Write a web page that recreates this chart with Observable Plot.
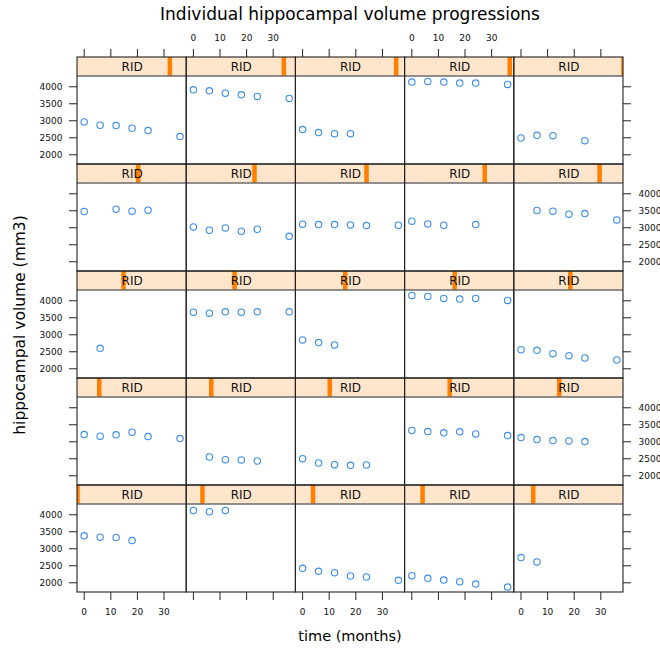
<!DOCTYPE html>
<html><head><meta charset="utf-8">
<script src="https://cdn.jsdelivr.net/npm/d3@7"></script>
<script src="https://cdn.jsdelivr.net/npm/@observablehq/plot@0.6"></script>
<style>
body{margin:0;background:#fff;font-family:"DejaVu Sans",sans-serif;}
#wrap{position:relative;width:660px;height:649px;}
#title{box-sizing:border-box;height:30px;padding-top:4px;margin-left:77px;width:546px;text-align:center;font-size:17px;line-height:20px;color:#000;white-space:nowrap;}
#ylab{position:absolute;left:20px;top:325px;transform:translate(-50%,-50%) rotate(-90deg);font-size:15.5px;white-space:nowrap;color:#000;}
#xlab{position:absolute;left:350px;top:636px;transform:translate(-50%,-50%);font-size:14.5px;white-space:nowrap;color:#000;}
</style></head><body>
<div id="wrap">
<div id="title">Individual hippocampal volume progressions</div>
<div id="chart"></div>
<div id="ylab">hippocampal volume (mm3)</div>
<div id="xlab">time (months)</div>
</div>
<script>
// visit months
const months = [0, 6, 12, 18, 24, 36];
// subject IDs, in lattice panel order (bottom-left first, row by row upward)
const rid = [2, 175, 190, 194, 210,
             241, 272, 374, 492, 496,
             508, 528, 543, 547, 618,
             669, 747, 778, 877, 939,
             1017, 1069, 1104, 1152, 1202];
// hippocampal volume (mm3) per panel, one value per visit month (null = missing)
const volume = [
  [3380, 3341, 3331, 3242, null, null],
  [4128, 4089, 4128, null, null, null],
  [2426, 2337, 2298, 2199, 2170, 2071],
  [2209, 2130, 2081, 2032, 1963, 1874],
  [2740, 2613, null, null, null, null],
  [3213, 3164, 3203, 3282, 3154, 3095],
  [null, 2553, 2475, 2465, 2435, null],
  [2504, 2376, 2327, 2307, 2317, null],
  [3331, 3301, 3262, 3292, 3232, 3183],
  [3124, 3065, 3036, 3026, 3006, null],
  [null, 2603, null, null, null, null],
  [3665, 3636, 3675, 3665, 3675, 3675],
  [2849, 2770, 2701, null, null, null],
  [4157, 4128, 4069, 4049, 4069, 4010],
  [2563, 2544, 2445, 2386, 2317, 2258],
  [3478, null, 3547, 3488, 3518, null],
  [3026, 2927, 2996, 2898, 2957, 2750],
  [3105, 3095, 3095, 3085, 3065, 3075],
  [3193, 3114, 3075, null, 3095, null],
  [null, 3508, 3488, 3400, 3419, 3232],
  [2967, 2869, 2859, 2780, 2711, 2534],
  [3911, 3882, 3813, 3764, 3715, 3656],
  [2740, 2652, 2622, 2622, null, null],
  [4138, 4157, 4138, 4108, 4108, 4069],
  [2494, 2573, 2563, null, 2416, null]
];
const xTicks = [0, 10, 20, 30];
const yTicks = [2000, 2500, 3000, 3500, 4000];
const stripLabel = "RID";

const nCol = 5, nRow = 5;
const panels = rid.map((r, i) => ({i, rid: r, col: i % nCol, row: nRow - 1 - Math.floor(i / nCol)}));
const obs = [];
volume.forEach((vals, i) => vals.forEach((v, j) => {
  if (v != null) obs.push({col: panels[i].col, row: panels[i].row, t: months[j], v});
}));

// lattice-style 7% axis padding
const [tLo, tHi] = d3.extent(months);
const xMin = tLo - 0.07 * (tHi - tLo), xMax = tHi + 0.07 * (tHi - tLo);
const [vLo, vHi] = d3.extent(obs, d => d.v);
const yMin = vLo - 0.07 * (vHi - vLo), yMax = vHi + 0.07 * (vHi - vLo);
const stripTop = yMax + (yMax - yMin) * (18.5 / 88.5);
const [ridLo, ridHi] = d3.extent(rid);
const ridX = r => xMin + (r - ridLo) / (ridHi - ridLo) * (xMax - xMin);

const cols = d3.range(nCol), rows = d3.range(nRow);
const topTicks = cols.flatMap(c => xTicks.map(v => ({col: c, row: 0, v})));
const bottomTicks = cols.flatMap(c => xTicks.map(v => ({col: c, row: nRow - 1, v})));
const topLabels = topTicks.filter(d => d.col % 2 === 1);
const bottomLabels = bottomTicks.filter(d => d.col % 2 === 0);
const leftTicks = rows.flatMap(r => yTicks.map(v => ({col: 0, row: r, v})));
const rightTicks = rows.flatMap(r => yTicks.map(v => ({col: nCol - 1, row: r, v})));
const leftLabels = leftTicks.filter(d => d.row % 2 === 0);
const rightLabels = rightTicks.filter(d => d.row % 2 === 1);

const ink = "#222";
const F = {fx: "col", fy: "row"};

const chart = Plot.plot({
  width: 660,
  height: 619,
  marginTop: 27,
  marginBottom: 57,
  marginLeft: 77,
  marginRight: 37,
  style: {fontFamily: "DejaVu Sans, sans-serif", fontSize: "9px", background: "#fff", overflow: "visible"},
  fx: {domain: cols, padding: 0, round: false, axis: null},
  fy: {domain: rows, padding: 0, round: false, axis: null},
  x: {domain: [xMin, xMax], axis: null},
  y: {domain: [yMin, stripTop], axis: null},
  marks: [
    // strip background
    Plot.rect(panels, {...F, x1: () => xMin, x2: () => xMax, y1: () => yMax, y2: () => stripTop, fill: "#ffe5cc"}),
    // level indicator in strip
    Plot.ruleX(panels, {...F, x: d => ridX(d.rid), y1: () => yMax, y2: () => stripTop, stroke: "#ff7f00", strokeWidth: 4.5, clip: true}),
    Plot.text(panels, {...F, x: () => (xMin + xMax) / 2, y: () => (yMax + stripTop) / 2, text: () => stripLabel, fontSize: 12, fill: "#111"}),
    // strip / panel separator and frames
    Plot.ruleY(panels, {...F, y: () => yMax, stroke: ink, strokeWidth: 1}),
    Plot.rect(panels, {...F, x1: () => xMin, x2: () => xMax, y1: () => yMin, y2: () => stripTop, fill: "none", stroke: ink, strokeWidth: 1.1}),
    // data points
    Plot.dot(obs, {...F, x: "t", y: "v", r: 3.2, stroke: "#3a8ee6", strokeWidth: 1.1, fill: "none"}),
    // axis ticks
    Plot.ruleX(topTicks, {...F, x: "v", y1: () => stripTop, y2: () => stripTop, insetTop: -8, stroke: ink}),
    Plot.ruleX(bottomTicks, {...F, x: "v", y1: () => yMin, y2: () => yMin, insetBottom: -8, stroke: ink}),
    Plot.ruleY(leftTicks, {...F, y: "v", x1: () => xMin, x2: () => xMin, insetLeft: -8, stroke: ink}),
    Plot.ruleY(rightTicks, {...F, y: "v", x1: () => xMax, x2: () => xMax, insetRight: -8, stroke: ink}),
    // axis labels
    Plot.text(topLabels, {...F, x: "v", y: () => stripTop, dy: -19, text: d => String(d.v), fill: "#111"}),
    Plot.text(bottomLabels, {...F, x: "v", y: () => yMin, dy: 20, text: d => String(d.v), fill: "#111"}),
    Plot.text(leftLabels, {...F, x: () => xMin, y: "v", dx: -15, textAnchor: "end", text: d => String(d.v), fill: "#111"}),
    Plot.text(rightLabels, {...F, x: () => xMax, y: "v", dx: 15, textAnchor: "start", text: d => String(d.v), fill: "#111"})
  ]
});
document.getElementById("chart").appendChild(chart);
</script>
</body></html>
